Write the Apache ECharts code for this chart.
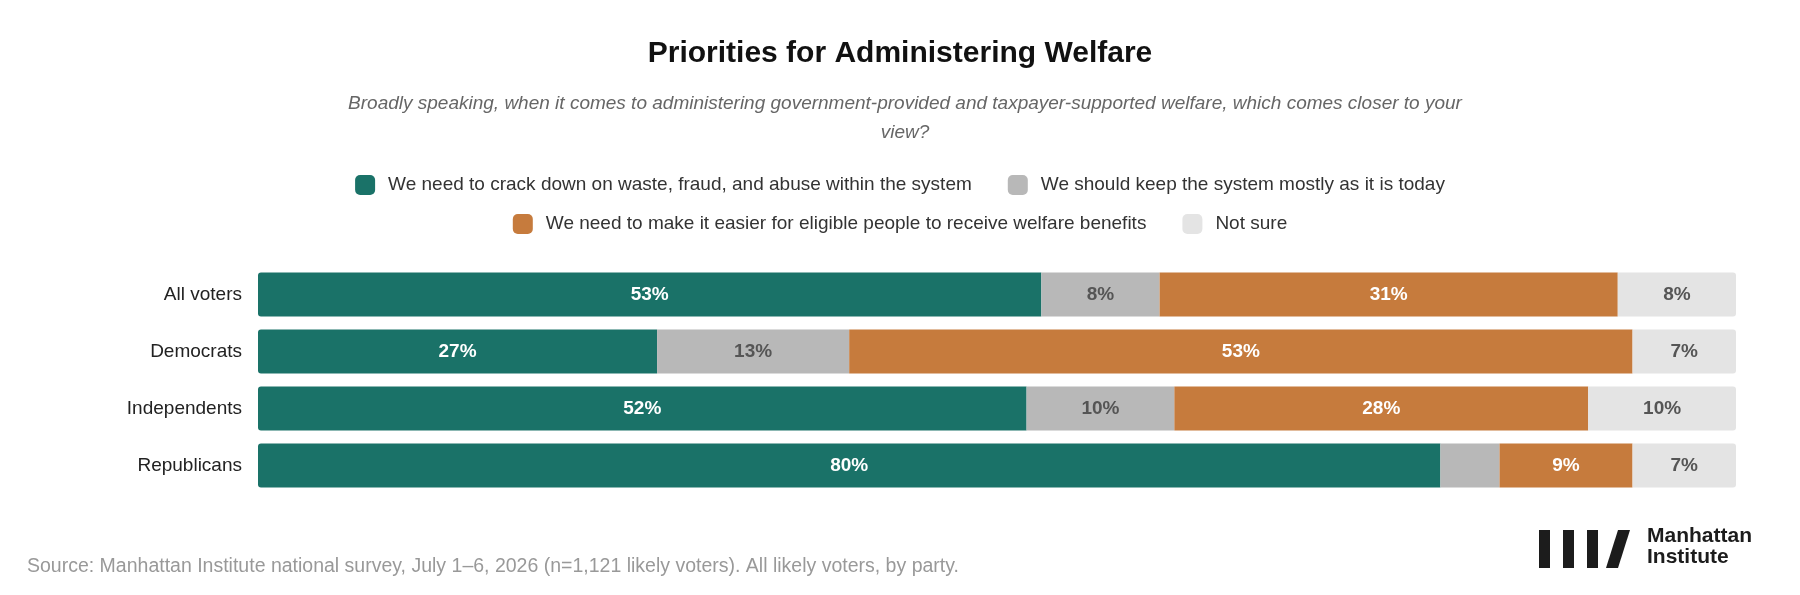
<!DOCTYPE html>
<html><head><meta charset="utf-8">
<script src="https://cdn.jsdelivr.net/npm/echarts@6/dist/echarts.min.js"></script>
<style>html,body{margin:0;background:#fff}#main{width:1800px;height:595px}</style>
</head><body><div id="main"></div>
<script>
var groups = ['All voters', 'Democrats', 'Independents', 'Republicans'];
var crackDown = [53, 27, 52, 80];
var keepSystem = [8, 13, 10, 4];
var makeEasier = [31, 53, 28, 9];
var notSure = [8, 7, 10, 7];
var seriesNames = [
  'We need to crack down on waste, fraud, and abuse within the system',
  'We should keep the system mostly as it is today',
  'We need to make it easier for eligible people to receive welfare benefits',
  'Not sure'
];
var colors = ['#1a7268', '#b8b8b8', '#c67b3d', '#e4e4e4'];
var labelColors = ['#fff', '#555', '#fff', '#555'];
var values = [crackDown, keepSystem, makeEasier, notSure];

var font = 'Helvetica, Arial, "Liberation Sans", sans-serif';

var series = values.map(function (vals, i) {
  return {
    name: seriesNames[i],
    type: 'bar',
    stack: 'all',
    barWidth: 44,
    itemStyle: { color: colors[i], borderRadius: i === 0 ? [3, 0, 0, 3] : (i === 3 ? [0, 3, 3, 0] : 0) },
    label: {
      show: true,
      color: labelColors[i],
      fontWeight: 'bold',
      fontSize: 19,
      fontFamily: font,
      formatter: function (p) { return p.value < 5 ? '' : p.value + '%'; }
    },
    data: vals
  };
});

var legendText = { fontSize: 19, color: '#333', fontFamily: font, padding: [0, 0, 0, 8] };

var chart = echarts.init(document.getElementById('main'));
chart.setOption({
  animation: false,
  title: [
    { text: 'Priorities for Administering Welfare', left: 'center', top: 34,
      textStyle: { fontSize: 30, fontWeight: 'bold', color: '#111', fontFamily: font } },
    { text: 'Broadly speaking, when it comes to administering government-provided and taxpayer-supported welfare, which comes closer to your\nview?',
      left: 900, top: 84, textAlign: 'center',
      textStyle: { fontSize: 19, fontStyle: 'italic', fontWeight: 'normal', color: '#666', lineHeight: 29, fontFamily: font, align: 'center' } },
    { text: 'Source: Manhattan Institute national survey, July 1–6, 2026 (n=1,121 likely voters). All likely voters, by party.',
      left: 22, top: 552, textStyle: { fontSize: 19.5, fontWeight: 'normal', color: '#999', fontFamily: font } }
  ],
  legend: [
    { data: [seriesNames[0], seriesNames[1]], top: 170, left: 'center', itemWidth: 20, itemHeight: 20, itemGap: 36,
      icon: 'roundRect', textStyle: legendText, selectedMode: false },
    { data: [seriesNames[2], seriesNames[3]], top: 209, left: 'center', itemWidth: 20, itemHeight: 20, itemGap: 36,
      icon: 'roundRect', textStyle: legendText, selectedMode: false }
  ],
  grid: { left: 258, right: 64, top: 266, height: 228 },
  xAxis: { type: 'value', min: 0, max: 100, show: false },
  yAxis: {
    type: 'category', data: groups, inverse: true,
    axisLine: { show: false }, axisTick: { show: false },
    axisLabel: { fontSize: 19, color: '#222', margin: 16, fontFamily: font }
  },
  series: series,
  graphic: [
    { type: 'rect', shape: { x: 1539, y: 530, width: 11, height: 38 }, style: { fill: '#1c1c1c' } },
    { type: 'rect', shape: { x: 1563, y: 530, width: 11, height: 38 }, style: { fill: '#1c1c1c' } },
    { type: 'rect', shape: { x: 1587, y: 530, width: 11, height: 38 }, style: { fill: '#1c1c1c' } },
    { type: 'polygon', shape: { points: [[1618, 530], [1630, 530], [1618, 568], [1606, 568]] }, style: { fill: '#1c1c1c' } },
    { type: 'text', left: 1647, top: 526, style: { text: 'Manhattan\nInstitute', fontSize: 21, fontWeight: 'bold', lineHeight: 21, fill: '#1c1c1c', fontFamily: font } }
  ]
});
</script></body></html>
